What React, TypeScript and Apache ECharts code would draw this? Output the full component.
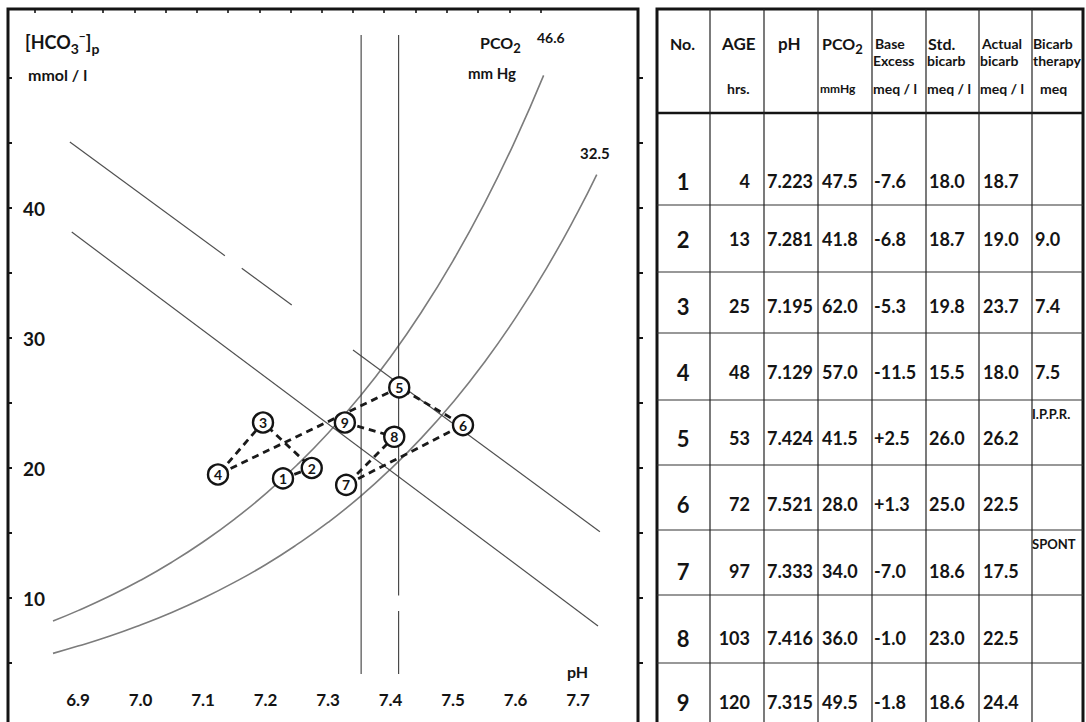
import React, { useEffect, useRef } from "react";
import * as echarts from "echarts";

const FONT = "Lato, 'DejaVu Sans', sans-serif";
const INK = "#141414";

// ---------------- chart data (pH vs plasma bicarbonate) ----------------
const sampleNo = ["1", "2", "3", "4", "5", "6", "7", "8", "9"];
const plotPH = [7.228, 7.274, 7.196, 7.124, 7.414, 7.516, 7.329, 7.406, 7.327];
const plotHCO3 = [19.2, 20.0, 23.5, 19.5, 26.2, 23.3, 18.7, 22.4, 23.5];

// PCO2 isobars
const isobar466PH = [6.86, 6.9, 6.95, 7.0, 7.05, 7.1, 7.15, 7.2, 7.25, 7.3, 7.35, 7.4, 7.45, 7.5, 7.55, 7.6, 7.645];
const isobar466HCO3 = [8.23, 9.03, 10.13, 11.36, 12.75, 14.31, 16.05, 18.01, 20.21, 22.67, 25.44, 28.54, 32.03, 35.94, 40.31, 45.24, 50.2];
const isobar325PH = [6.86, 6.9, 6.95, 7.0, 7.05, 7.1, 7.15, 7.2, 7.25, 7.3, 7.35, 7.4, 7.45, 7.5, 7.55, 7.6, 7.65, 7.7, 7.73];
const isobar325HCO3 = [5.74, 6.3, 7.06, 7.93, 8.89, 9.98, 11.2, 12.56, 14.1, 15.81, 17.74, 19.91, 22.34, 25.06, 28.12, 31.55, 35.4, 39.72, 42.56];

// buffer lines (null = break in the printed line)
const upperLinePH = [6.887, 7.135, null, 7.162, 7.242, null, 7.34, 7.735];
const upperLineHCO3 = [45.08, 36.33, null, 35.37, 32.54, null, 29.08, 15.1];
const lowerLinePH = [6.89, 7.732];
const lowerLineHCO3 = [38.15, 7.85];

// normal pH range verticals
const vLine1PH = [7.353, 7.353];
const vLine1HCO3 = [53.3, 4.15];
const vLine2PH = [7.413, 7.413, null, 7.413, 7.413];
const vLine2HCO3 = [53.3, 10.2, null, 9.0, 4.15];

// axis ticks / labels
const xLabelValues = [6.9, 7.0, 7.1, 7.2, 7.3, 7.4, 7.5, 7.6, 7.7];
const topTickValues = [6.83, 6.89, 6.94, 6.99, 7.04, 7.09, 7.14, 7.19, 7.24, 7.29, 7.34, 7.39, 7.44, 7.49, 7.54, 7.59, 7.64];
const yLabelValues = [10, 20, 30, 40];
const yTickValues = [5, 10, 15, 20, 25, 30, 35, 40, 45, 50];

// ---------------- table data ----------------
const headLine1 = ["No.", "AGE", "pH", "PCO2", "Base", "Std.", "Actual", "Bicarb"];
const headLine2 = ["", "", "", "", "Excess", "bicarb", "bicarb", "therapy"];
const headLine3 = ["", "hrs.", "", "mmHg", "meq / l", "meq / l", "meq / l", "meq"];
const rowNo = ["1", "2", "3", "4", "5", "6", "7", "8", "9"];
const ageHrs = ["4", "13", "25", "48", "53", "72", "97", "103", "120"];
const tablePH = ["7.223", "7.281", "7.195", "7.129", "7.424", "7.521", "7.333", "7.416", "7.315"];
const tablePCO2 = ["47.5", "41.8", "62.0", "57.0", "41.5", "28.0", "34.0", "36.0", "49.5"];
const baseExcess = ["-7.6", "-6.8", "-5.3", "-11.5", "+2.5", "+1.3", "-7.0", "-1.0", "-1.8"];
const stdBicarb = ["18.0", "18.7", "19.8", "15.5", "26.0", "25.0", "18.6", "23.0", "18.6"];
const actualBicarb = ["18.7", "19.0", "23.7", "18.0", "26.2", "22.5", "17.5", "22.5", "24.4"];
const bicarbTherapy = ["", "9.0", "7.4", "7.5", "", "", "", "", ""];
const ventNotes = ["", "", "", "", "I.P.P.R.", "", "SPONT", "", ""];

// ---------------- layout ----------------
const colX = [657, 710, 764, 818, 872, 926, 979, 1032, 1083];
const rowLineY = [205, 272, 333, 400, 465, 530, 595, 663];
const rowTextY = [181, 239, 306, 372, 438, 504, 571, 638, 702];

function toSegments(xs: (number | null)[], ys: (number | null)[]) {
  const segs: number[][][] = [];
  let cur: number[][] = [];
  xs.forEach((x, i) => {
    const y = ys[i];
    if (x == null || y == null) {
      if (cur.length) segs.push(cur);
      cur = [];
    } else cur.push([x, y]);
  });
  if (cur.length) segs.push(cur);
  return segs;
}

function txt(text: string, x: number, y: number, size: number, align = "left", extra: any = {}) {
  return {
    type: "text",
    x,
    y,
    silent: true,
    z: 20,
    style: {
      text,
      fill: INK,
      font: `bold ${size}px ${FONT}`,
      align,
      verticalAlign: "middle",
      textAlign: align,
      textVerticalAlign: "middle",
      ...extra,
    },
  };
}

function richTxt(text: string, x: number, y: number, rich: any) {
  return {
    type: "text",
    x,
    y,
    silent: true,
    z: 20,
    style: { text, verticalAlign: "middle", textVerticalAlign: "middle", rich },
  };
}

function hline(x1: number, x2: number, y: number, w: number, color = INK) {
  return { type: "line", silent: true, z: 15, shape: { x1, y1: y, x2, y2: y }, style: { stroke: color, lineWidth: w } };
}
function vline(x: number, y1: number, y2: number, w: number, color = INK) {
  return { type: "line", silent: true, z: 15, shape: { x1: x, y1, x2: x, y2 }, style: { stroke: color, lineWidth: w } };
}

function buildOption() {
  const lineSeries = (data: number[][], color: string, width: number, z: number, smooth = false) => ({
    type: "line",
    data,
    symbol: "none",
    showSymbol: false,
    silent: true,
    smooth,
    z,
    lineStyle: { color, width },
    xAxisIndex: 0,
    yAxisIndex: 0,
  });

  const series: any[] = [];
  series.push(lineSeries(isobar466PH.map((p, i) => [p, isobar466HCO3[i]]), "#7c7c7c", 1.6, 2, true));
  series.push(lineSeries(isobar325PH.map((p, i) => [p, isobar325HCO3[i]]), "#7c7c7c", 1.6, 2, true));
  toSegments(upperLinePH, upperLineHCO3).forEach((s) => series.push(lineSeries(s, "#505050", 1.2, 2)));
  toSegments(lowerLinePH, lowerLineHCO3).forEach((s) => series.push(lineSeries(s, "#505050", 1.2, 2)));
  toSegments(vLine1PH, vLine1HCO3).forEach((s) => series.push(lineSeries(s, "#3c3c3c", 1.1, 2)));
  toSegments(vLine2PH, vLine2HCO3).forEach((s) => series.push(lineSeries(s, "#3c3c3c", 1.1, 2)));

  // dashed chronological path
  series.push({
    type: "line",
    data: plotPH.map((p, i) => [p, plotHCO3[i]]),
    symbol: "none",
    silent: true,
    z: 4,
    lineStyle: { color: "#1a1a1a", width: 2.8, type: [7, 5] },
  });
  // numbered circles
  series.push({
    type: "scatter",
    data: plotPH.map((p, i) => ({ value: [p, plotHCO3[i]], name: sampleNo[i] })),
    symbol: "circle",
    symbolSize: 20,
    silent: true,
    z: 6,
    itemStyle: { color: "#fff", borderColor: INK, borderWidth: 2.4, opacity: 1 },
    label: {
      show: true,
      position: "inside",
      formatter: "{b}",
      color: INK,
      fontFamily: FONT,
      fontWeight: "bold",
      fontSize: 14,
    },
  });

  const g: any[] = [];
  // left panel frame
  g.push({ type: "rect", silent: true, z: 15, shape: { x: 8, y: 9, width: 630, height: 740 }, style: { fill: "none", stroke: INK, lineWidth: 3 } });
  // chart annotations
  g.push(
    richTxt("{m|[HCO}{s|3}{u|−}{m|]}{s|p}", 25, 42, {
      m: { font: `bold 18px ${FONT}`, fill: INK, lineHeight: 26, verticalAlign: "middle" },
      s: { font: `bold 14px ${FONT}`, fill: INK, verticalAlign: "bottom" },
      u: { font: `bold 12px ${FONT}`, fill: INK, verticalAlign: "top" },
    })
  );
  g.push(txt("mmol / l", 28, 74, 16));
  g.push(
    richTxt("{m|PCO}{s|2}", 480, 42, {
      m: { font: `bold 16px ${FONT}`, fill: INK, lineHeight: 24, verticalAlign: "middle" },
      s: { font: `bold 13px ${FONT}`, fill: INK, verticalAlign: "bottom" },
    })
  );
  g.push(txt("46.6", 537, 37, 14));
  g.push(txt("mm Hg", 468, 73, 15));
  g.push(txt("32.5", 580, 153, 15));
  g.push(txt("pH", 567, 671, 16));

  // table frame and rules
  g.push({ type: "rect", silent: true, z: 15, shape: { x: colX[0], y: 9, width: colX[8] - colX[0], height: 740 }, style: { fill: "none", stroke: INK, lineWidth: 3 } });
  g.push(hline(colX[0], colX[8], 113, 2.5));
  rowLineY.forEach((y) => g.push(hline(colX[0], colX[8], y, 1.2, "#333")));
  colX.slice(1, 8).forEach((x) => g.push(vline(x, 9, 740, 1.2, "#222")));

  // header
  const h1x = [670, 722, 778, 822, 875, 928, 982, 1033];
  const h1size = [16, 17, 17, 16, 14, 16, 14, 14];
  headLine1.forEach((t, i) => {
    if (t === "PCO2") {
      g.push(
        richTxt("{m|PCO}{s|2}", h1x[i], 43, {
          m: { font: `bold 16px ${FONT}`, fill: INK, lineHeight: 24, verticalAlign: "middle" },
          s: { font: `bold 13px ${FONT}`, fill: INK, verticalAlign: "bottom" },
        })
      );
    } else g.push(txt(t, h1x[i], 43, h1size[i]));
  });
  headLine2.forEach((t, i) => {
    if (t) g.push(txt(t, colX[i] + 1, 60, 14));
  });
  const h3x = [0, 727, 0, 820, 873, 927, 980, 1040];
  const h3size = [0, 14, 0, 12, 14, 14, 14, 14];
  headLine3.forEach((t, i) => {
    if (t) g.push(txt(t, h3x[i], 88, h3size[i]));
  });

  // body
  rowNo.forEach((n, i) => {
    const y = rowTextY[i];
    g.push(txt(n, 683, y, 22, "center"));
    g.push(txt(ageHrs[i], 750, y, 18, "right"));
    g.push(txt(tablePH[i], 767, y, 18));
    g.push(txt(tablePCO2[i], 822, y, 18));
    g.push(txt(baseExcess[i], 874, y, 18));
    g.push(txt(stdBicarb[i], 929, y, 18));
    g.push(txt(actualBicarb[i], 983, y, 18));
    if (bicarbTherapy[i]) g.push(txt(bicarbTherapy[i], 1035, y, 18));
    if (ventNotes[i]) g.push(txt(ventNotes[i], 1032, rowLineY[i - 1] + 14, 13));
  });

  return {
    animation: false,
    backgroundColor: "#fff",
    grid: { left: 15.5, top: 13, width: 625, height: 702, containLabel: false, outerBoundsMode: "none" },
    xAxis: [
      {
        type: "value",
        min: 6.8,
        max: 7.8,
        position: "bottom",
        axisLine: { show: false },
        axisTick: { show: false },
        splitLine: { show: false },
        axisLabel: {
          inside: true,
          margin: 7,
          customValues: xLabelValues,
          formatter: (v: number) => v.toFixed(1),
          color: INK,
          fontFamily: FONT,
          fontWeight: "bold",
          fontSize: 17,
        },
      },
      {
        type: "value",
        min: 6.8,
        max: 7.8,
        position: "top",
        offset: 4,
        axisLine: { show: false },
        axisTick: { show: true, inside: true, length: 4, customValues: topTickValues, lineStyle: { color: INK, width: 1.6 } },
        axisLabel: { show: false },
        splitLine: { show: false },
      },
    ],
    yAxis: [
      {
        type: "value",
        min: 1,
        max: 55,
        position: "left",
        offset: 7.5,
        axisLine: { show: false },
        axisTick: { show: true, inside: true, length: 4, customValues: yTickValues, lineStyle: { color: INK, width: 2 } },
        axisLabel: {
          inside: true,
          margin: 15,
          customValues: yLabelValues,
          color: INK,
          fontFamily: FONT,
          fontWeight: "bold",
          fontSize: 19,
        },
        splitLine: { show: false },
      },
      {
        type: "value",
        min: 1,
        max: 55,
        position: "right",
        offset: 2.5,
        axisLine: { show: false },
        axisTick: { show: true, inside: true, length: 4, customValues: yTickValues, lineStyle: { color: INK, width: 2 } },
        axisLabel: { show: false },
        splitLine: { show: false },
      },
    ],
    series,
    graphic: { elements: g },
  };
}

export default function App() {
  const ref = useRef<HTMLDivElement>(null);
  useEffect(() => {
    const chart = echarts.init(ref.current as HTMLDivElement, null, { renderer: "svg" });
    chart.setOption(buildOption() as any);
    return () => chart.dispose();
  }, []);
  return (
    <div
      ref={ref}
      style={{ position: "fixed", left: 0, top: 0, width: 1086, height: 722, background: "#fff" }}
    />
  );
}
